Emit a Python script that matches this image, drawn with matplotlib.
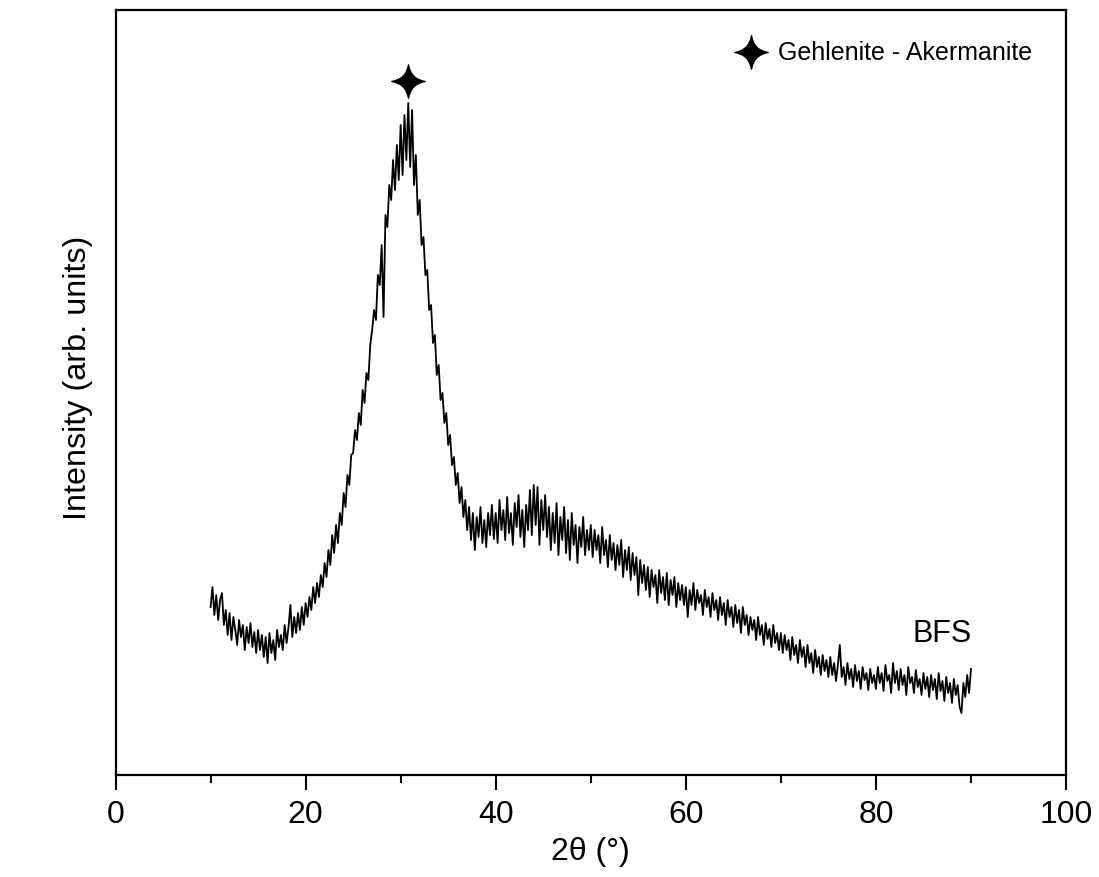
import numpy as np
import matplotlib
matplotlib.use("Agg")
import matplotlib.pyplot as plt
from matplotlib.path import Path
from matplotlib.lines import Line2D

plt.rcParams['font.family'] = ['Liberation Sans', 'DejaVu Sans']

# 2-theta grid (degrees), 0.2 deg steps from 10 to 90
two_theta_start = 10.0
two_theta_step = 0.2

intensity = [
    # 10.0 - 14.8
    168, 188, 160, 180, 155, 175, 182, 150, 165, 140, 162, 135, 158, 145, 130, 155, 138, 150, 125, 148, 132, 152, 128, 143, 122,
    # 15.0 - 19.8
    145, 125, 140, 118, 138, 112, 142, 122, 135, 115, 145, 128, 140, 125, 150, 132, 148, 170, 138, 158, 142, 162, 145, 168, 150,
    # 20.0 - 24.8
    172, 158, 178, 165, 188, 172, 192, 178, 200, 188, 212, 198, 225, 210, 240, 222, 250, 232, 262, 250, 282, 268, 300, 290, 320,
    # 25.0 - 29.8
    322, 345, 335, 362, 350, 385, 372, 402, 395, 430, 445, 465, 455, 500, 490, 530, 458, 560, 548, 590, 575, 615, 585, 630, 595,
    # 30.0 - 34.8
    650, 600, 660, 615, 672, 608, 665, 590, 620, 560, 575, 530, 538, 500, 505, 465, 470, 432, 440, 400, 410, 375, 382, 352, 362,
    # 35.0 - 39.8
    330, 340, 310, 318, 290, 302, 272, 288, 258, 275, 245, 268, 235, 262, 225, 258, 238, 268, 232, 255, 228, 262, 240, 270, 236,
    # 40.0 - 44.8
    262, 232, 275, 245, 265, 235, 278, 242, 262, 230, 272, 248, 280, 238, 265, 228, 270, 245, 285, 240, 290, 250, 288, 230, 275,
    # 45.0 - 49.8
    245, 280, 238, 268, 225, 262, 232, 272, 220, 258, 235, 268, 222, 255, 215, 262, 230, 250, 212, 248, 228, 258, 220, 245, 225,
    # 50.0 - 54.8
    250, 218, 245, 225, 240, 212, 248, 220, 235, 208, 240, 215, 232, 205, 230, 210, 235, 198, 225, 205, 228, 195, 222, 200, 218,
    # 55.0 - 59.8
    180, 215, 192, 210, 185, 208, 178, 205, 188, 200, 172, 205, 182, 198, 175, 202, 170, 195, 180, 198, 168, 192, 175, 190, 170,
    # 60.0 - 64.8
    188, 158, 185, 170, 192, 165, 185, 172, 180, 160, 185, 168, 178, 158, 182, 165, 175, 155, 178, 160, 172, 150, 175, 158, 168,
    # 65.0 - 69.8
    148, 170, 152, 165, 142, 168, 150, 160, 140, 158, 145, 155, 135, 158, 140, 150, 130, 152, 136, 146, 128, 150, 132, 142, 125,
    # 70.0 - 74.8
    142, 122, 140, 125, 135, 115, 138, 120, 130, 112, 135, 118, 128, 108, 130, 112, 122, 102, 125, 108, 118, 100, 120, 104, 115,
    # 75.0 - 79.8
    98, 118, 100, 112, 94, 110, 130, 98, 108, 90, 112, 96, 106, 88, 110, 94, 104, 86, 108, 95, 102, 85, 106, 92, 100,
    # 80.0 - 84.8
    86, 108, 92, 102, 84, 110, 94, 100, 82, 112, 92, 104, 85, 106, 90, 100, 80, 108, 92, 98, 82, 105, 88, 96, 80,
    # 85.0 - 89.8
    102, 86, 98, 78, 100, 85, 96, 76, 102, 84, 94, 74, 98, 82, 92, 72, 96, 80, 90, 68, 62, 92, 78, 100, 82,
    # 90.0
    106,
]
two_theta = two_theta_start + two_theta_step * np.arange(len(intensity))

peak_position = [30.8]
peak_marker_height = [694]

sample_label = "BFS"
phase_label = "Gehlenite - Akermanite"
x_ticks = [0, 20, 40, 60, 80, 100]

# four-pointed concave star marker
c = 0.14
star_verts = [(0, 1), (c, c), (1, 0), (c, -c), (0, -1), (-c, -c), (-1, 0), (-c, c), (0, 1), (0, 1)]
star_codes = [Path.MOVETO] + [Path.CURVE3] * 8 + [Path.CLOSEPOLY]
star = Path(star_verts, star_codes)

fig = plt.figure(figsize=(10.99, 8.77), dpi=100)
ax = fig.add_axes([0.1051, 0.1163, 0.8649, 0.8723])

ax.plot(two_theta, intensity, color='black', lw=1.3)
ax.plot(peak_position, peak_marker_height, linestyle='none', marker=star,
        markersize=24, color='black')

ax.set_xlim(0, 100)
ax.set_ylim(0, 765)
ax.set_xticks(x_ticks)
ax.set_xticks(np.arange(10, 100, 20), minor=True)
ax.set_yticks([])
ax.tick_params(axis='x', which='major', direction='out', length=11, width=1.5,
               labelsize=23, pad=7)
ax.tick_params(axis='x', which='minor', direction='out', length=6, width=1.5)
for s in ax.spines.values():
    s.set_linewidth(1.6)

ax.set_xlabel("2θ (°)", fontsize=23, labelpad=5)
ax.set_ylabel("Intensity (arb. units)", fontsize=23.3)
ax.yaxis.set_label_coords(-0.024, 0.519)

ax.text(0.870, (775 - 634) / 765, sample_label, transform=ax.transAxes,
        fontsize=22, ha='center', va='center')

handle = Line2D([], [], linestyle='none', marker=star, markersize=24, color='black')
ax.legend([handle], [phase_label], loc='upper right', frameon=False,
          fontsize=18, handlelength=1.0, handletextpad=0.6,
          bbox_to_anchor=(0.983, 0.982), borderaxespad=0.3)

fig.savefig("out.png", dpi=100)
